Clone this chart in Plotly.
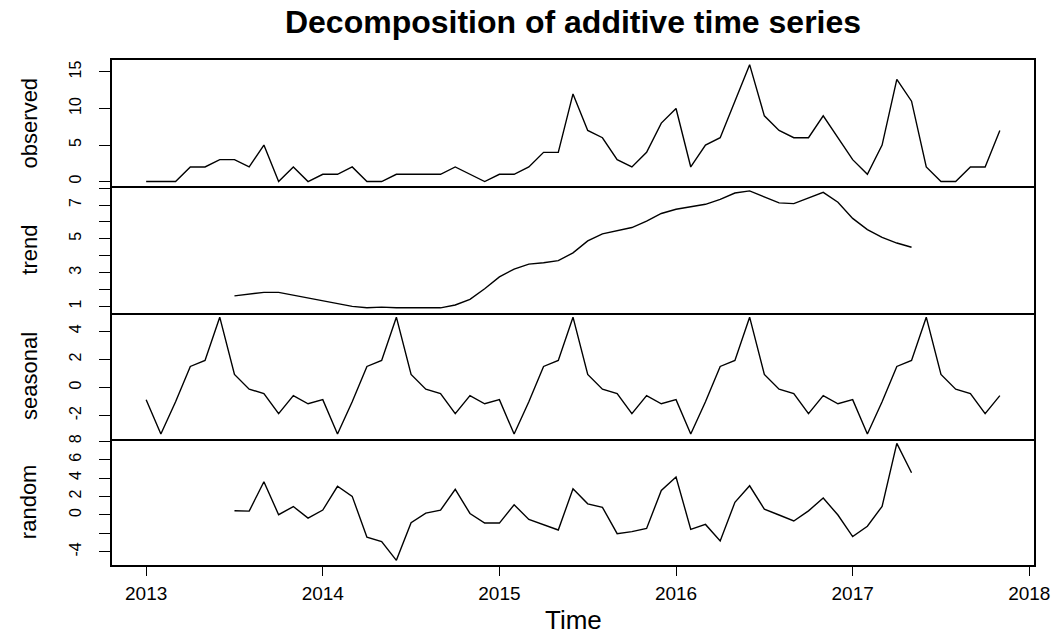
import plotly.graph_objects as go

# Monthly counts, Jan 2013 - Nov 2017
observed = [
    0, 0, 0, 2, 2, 3, 3, 2, 5, 0, 2, 0,      # 2013
    1, 1, 2, 0, 0, 1, 1, 1, 1, 2, 1, 0,      # 2014
    1, 1, 2, 4, 4, 12, 7, 6, 3, 2, 4, 8,     # 2015
    10, 2, 5, 6, 11, 16, 9, 7, 6, 6, 9, 6,   # 2016
    3, 1, 5, 14, 11, 2, 0, 0, 2, 2, 7,       # 2017
]

# centred 12-month moving average (undefined for the first and last six months)
trend = [None] * 6 + [
    1.625, 1.708, 1.833, 1.833, 1.667, 1.500,
    1.333, 1.208, 1.000, 0.917, 0.958, 0.917, 0.917, 0.917, 0.917, 1.083, 1.417, 2.042,
    2.750, 3.208, 3.500, 3.583, 3.708, 4.167, 4.875, 5.292, 5.458, 5.667, 6.042, 6.500,
    6.750, 6.875, 7.042, 7.333, 7.708, 7.833, 7.458, 7.125, 7.083, 7.417, 7.750, 7.167,
    6.208, 5.542, 5.083, 4.750, 4.500,
] + [None] * 6

seasonal = [
    -0.869, -3.317, -1.015, 1.496, 1.923, 5.003, 0.923, -0.119, -0.431, -1.858, -0.577, -1.160,
    -0.869, -3.317, -1.015, 1.496, 1.923, 5.003, 0.923, -0.119, -0.431, -1.858, -0.577, -1.160,
    -0.869, -3.317, -1.015, 1.496, 1.923, 5.003, 0.923, -0.119, -0.431, -1.858, -0.577, -1.160,
    -0.869, -3.317, -1.015, 1.496, 1.923, 5.003, 0.923, -0.119, -0.431, -1.858, -0.577, -1.160,
    -0.869, -3.317, -1.015, 1.496, 1.923, 5.003, 0.923, -0.119, -0.431, -1.858, -0.577,
]

random_part = [None] * 6 + [
    0.452, 0.410, 3.598, 0.025, 0.910, -0.340,
    0.535, 3.108, 2.015, -2.413, -2.881, -4.920, -0.840, 0.202, 0.514, 2.775, 0.160, -0.881,
    -0.881, 1.108, -0.486, -1.079, -1.631, 2.830, 1.202, 0.827, -2.027, -1.809, -1.465, 2.660,
    4.119, -1.559, -1.027, -2.829, 1.369, 3.164, 0.619, -0.006, -0.652, 0.442, 1.827, -0.006,
    -2.340, -1.225, 0.931, 7.754, 4.577,
] + [None] * 6

start_year = 2013
time = [start_year + i / 12 for i in range(len(observed))]

year_ticks = [2013, 2014, 2015, 2016, 2017, 2018]

panels = [
    ("observed", observed, [0, 5, 10, 15], ["0", "5", "10", "15"]),
    ("trend", trend, [1, 2, 3, 4, 5, 6, 7, 8], ["1", "", "3", "", "5", "", "7", ""]),
    ("seasonal", seasonal, [-2, 0, 2, 4], ["-2", "0", "2", "4"]),
    ("random", random_part, [-4, -2, 0, 2, 4, 6, 8], ["-4", "", "0", "2", "4", "6", "8"]),
]

FONT = "Liberation Sans, Arial, Helvetica, sans-serif"
W, H = 1062, 637
ML, MR, MT, MB = 112, 25, 60, 72
plot_w = W - ML - MR
plot_h = H - MT - MB


def padded(vals, frac=0.04):
    v = [a for a in vals if a is not None]
    lo, hi = min(v), max(v)
    d = (hi - lo) * frac
    return [lo - d, hi + d]


x_range = padded(time)

fig = go.Figure()
n = len(panels)
layout = {}
annotations = []
for i, (name, vals, tv, tt) in enumerate(panels):
    idx = "" if i == 0 else str(i + 1)
    fig.add_trace(go.Scatter(
        x=time, y=vals, mode="lines",
        line=dict(color="black", width=1.4),
        xaxis="x" + idx, yaxis="y" + idx,
        showlegend=False, connectgaps=False,
        hoverinfo="skip",
    ))
    top = 1 - i / n
    bottom = 1 - (i + 1) / n
    last = i == n - 1
    # only the top panel mirrors its x line; the others share the line above them
    layout["xaxis" + idx] = dict(
        domain=[0, 1], anchor="y" + idx, range=x_range,
        showgrid=False, zeroline=False,
        showline=True, mirror=(i == 0), linecolor="black", linewidth=1.7,
        tickvals=year_ticks if last else [],
        ticks="outside" if last else "", ticklen=9, tickwidth=1.3, tickcolor="black",
        showticklabels=last,
        tickfont=dict(family=FONT, size=19, color="black"),
        ticklabelstandoff=1,
        **({} if i == 0 else {"matches": "x"}),
    )
    layout["yaxis" + idx] = dict(
        domain=[bottom, top], anchor="x" + idx, range=padded(vals),
        showgrid=False, zeroline=False,
        showline=True, mirror=True, linecolor="black", linewidth=1.7,
        tickvals=tv, ticktext=tt,
        ticks="outside", ticklen=11, tickwidth=1.3, tickcolor="black",
        tickangle=-90,
        tickfont=dict(family=FONT, size=16, color="black"),
        ticklabelstandoff=12,
    )
    annotations.append(dict(
        text=name, xref="paper", yref="paper",
        x=(29 - ML) / plot_w, y=(bottom + top) / 2,
        xanchor="center", yanchor="middle", textangle=-90, showarrow=False,
        font=dict(family=FONT, size=22, color="black"),
    ))

annotations.append(dict(
    text="Time", xref="paper", yref="paper",
    x=0.5, y=-(620 - (H - MB)) / plot_h,
    xanchor="center", yanchor="middle", showarrow=False,
    font=dict(family=FONT, size=26, color="black"),
))

fig.update_layout(
    width=W, height=H,
    margin=dict(l=ML, r=MR, t=MT, b=MB, pad=0),
    paper_bgcolor="white", plot_bgcolor="white",
    title=dict(
        text="<b>Decomposition of additive time series</b>",
        x=0.5, xref="paper", y=1 - 22 / H, yref="container",
        xanchor="center", yanchor="middle",
        font=dict(family=FONT, size=32, color="black"),
    ),
    annotations=annotations,
    **layout,
)

fig.write_html("out.html")
